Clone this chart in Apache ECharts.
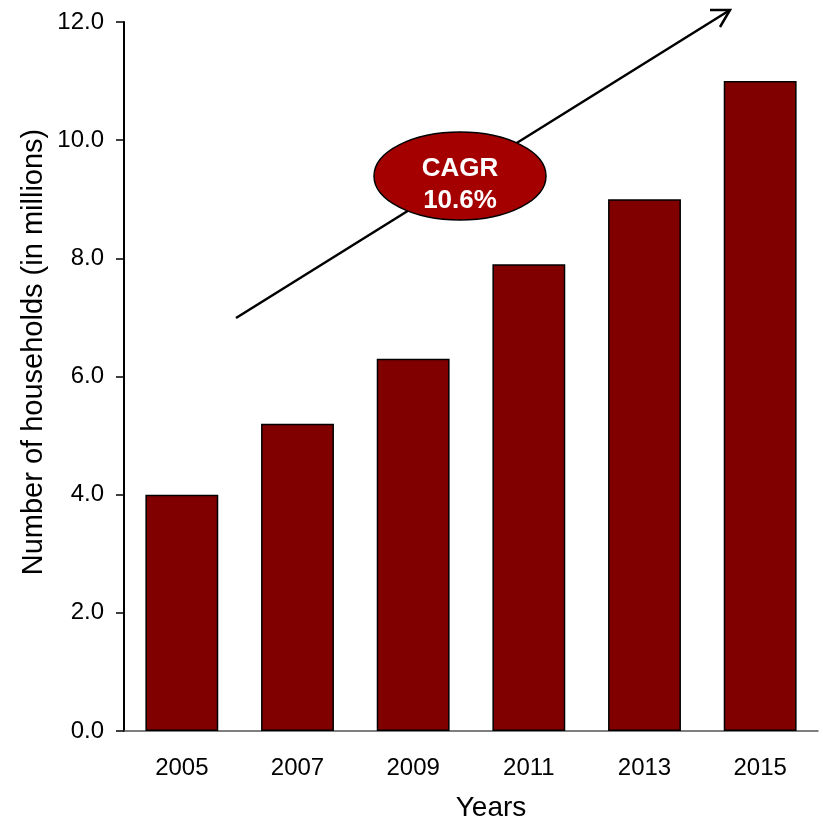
<!DOCTYPE html>
<html>
<head>
<meta charset="utf-8">
<script src="https://cdn.jsdelivr.net/npm/echarts@6/dist/echarts.min.js"></script>
<style>
  html, body { margin: 0; padding: 0; background: #ffffff; }
  #chart { width: 823px; height: 821px; }
</style>
</head>
<body>
<div id="chart"></div>
<script>
// Household counts by year (millions)
const years = ['2005', '2007', '2009', '2011', '2013', '2015'];
const households = [4.0, 5.2, 6.3, 7.9, 9.0, 11.0];
const yTicks = { min: 0, max: 12, interval: 2 };
const cagrLabel = ['CAGR', '10.6%'];
const yTitle = 'Number of households (in millions)';
const xTitle = 'Years';

const FONT = '"Liberation Sans", Arial, Helvetica, sans-serif';

const chart = echarts.init(document.getElementById('chart'), null, { renderer: 'canvas' });

chart.setOption({
  animation: false,
  backgroundColor: '#ffffff',
  grid: { left: 124, right: 5, top: 22, bottom: 90, containLabel: false },
  xAxis: {
    type: 'category',
    data: years,
    axisLine: { show: true, lineStyle: { color: '#555555', width: 1.5 } },
    axisTick: { show: false },
    axisLabel: { color: '#000', fontFamily: FONT, fontSize: 24, margin: 25 },
    splitLine: { show: false }
  },
  yAxis: {
    type: 'value',
    min: yTicks.min,
    max: yTicks.max,
    interval: yTicks.interval,
    axisLine: { show: true, lineStyle: { color: '#000', width: 2 } },
    axisTick: { show: true, inside: false, length: 8, lineStyle: { color: '#000', width: 1.5 } },
    axisLabel: {
      color: '#000', fontFamily: FONT, fontSize: 24, margin: 20,
      formatter: v => v.toFixed(1)
    },
    splitLine: { show: false }
  },
  series: [{
    type: 'bar',
    data: households,
    barWidth: '63%',
    itemStyle: { color: '#800000', borderColor: '#000', borderWidth: 1.5 },
    z: 2
  }],
  graphic: [
    // axis titles
    {
      type: 'text', z: 10,
      x: 34, y: 352, rotation: Math.PI / 2,
      style: {
        text: yTitle, fill: '#000', font: '29px ' + FONT,
        textAlign: 'center', textVerticalAlign: 'middle'
      }
    },
    {
      type: 'text', z: 10,
      x: 491, y: 808,
      style: {
        text: xTitle, fill: '#000', font: '28px ' + FONT,
        textAlign: 'center', textVerticalAlign: 'middle'
      }
    },
    // growth arrow
    {
      type: 'line', z: 5,
      shape: { x1: 236, y1: 318, x2: 730, y2: 10 },
      style: { stroke: '#000', lineWidth: 2.5 }
    },
    {
      type: 'polyline', z: 5,
      shape: { points: [[710, 10], [730, 10], [720, 27]] },
      style: { stroke: '#000', lineWidth: 2.5, fill: null, lineJoin: 'miter' }
    },
    // CAGR badge
    {
      type: 'ellipse', z: 6,
      shape: { cx: 460, cy: 176, rx: 86, ry: 44 },
      style: { fill: '#A50000', stroke: '#000', lineWidth: 1.5 }
    },
    {
      type: 'text', z: 7,
      x: 460, y: 185,
      style: {
        text: cagrLabel.join('\n'), fill: '#ffffff',
        font: 'bold 26px ' + FONT, lineHeight: 32,
        textAlign: 'center', textVerticalAlign: 'middle'
      }
    }
  ]
});
</script>
</body>
</html>
